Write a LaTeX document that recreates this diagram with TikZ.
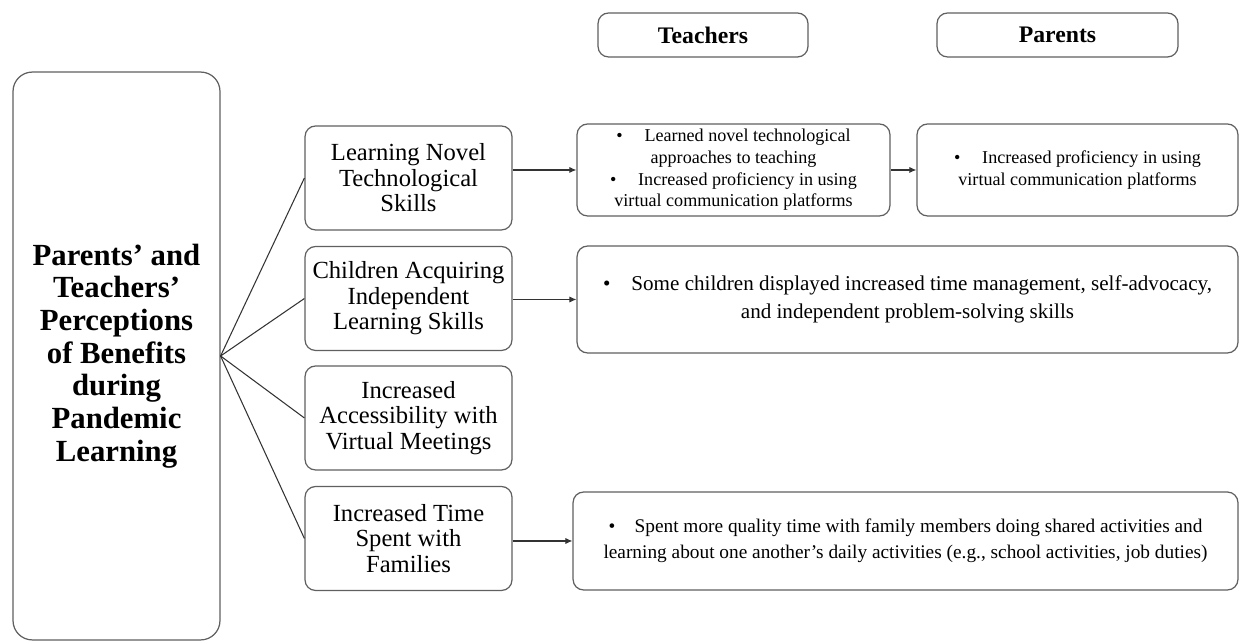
\documentclass[tikz,border=0pt]{standalone}
\usepackage{fontspec}
\setmainfont{Liberation Serif}
\usetikzlibrary{arrows.meta}

\begin{document}
\begin{tikzpicture}[x=0.02cm,y=-0.02cm,
		box/.style={draw=gray!75!black,line width=0.7pt,rounded corners=6pt,align=center,inner sep=1pt},
		catbox/.style={box,minimum width=4.14cm,minimum height=2.08cm,font=\fontsize{14}{14.5}\selectfont},
		headbox/.style={box,minimum height=0.88cm,font=\bfseries\fontsize{13.5}{15}\selectfont},
		link/.style={line width=0.6pt,draw=black!80},
		arr/.style={link,-{Latex[length=4pt,width=3.5pt]}}]
	\useasboundingbox (0,0) rectangle (1241,644);
	\node[box,rounded corners=11pt,minimum width=4.14cm,minimum height=11.36cm,font=\bfseries\fontsize{17.5}{18.6}\selectfont] (main) at (116.5,356) {Parents’ and\\Teachers’\\Perceptions\\of Benefits\\during\\Pandemic\\Learning};
	\node[headbox,minimum width=4.2cm] (teach) at (703,35) {Teachers};
	\node[headbox,minimum width=4.82cm] (par) at (1057.5,35) {Parents};
	\node[catbox] (cat1) at (408.5,178) {Learning Novel\\Technological\\Skills};
	\node[catbox] (cat2) at (408.5,298.5) {Children Acquiring\\Independent\\Learning Skills};
	\node[catbox] (cat3) at (408.5,418) {Increased\\Accessibility with\\Virtual Meetings};
	\node[catbox] (cat4) at (408.5,538.5) {Increased Time\\Spent with\\Families};
	\node[box,minimum width=6.26cm,minimum height=1.84cm,font=\fontsize{10.3}{12.3}\selectfont] (tech1) at (733.5,170) {\textbullet\hspace{1.2em}Learned novel technological\\approaches to teaching\\\textbullet\hspace{1.2em}Increased proficiency in using\\virtual communication platforms};
	\node[box,minimum width=6.42cm,minimum height=1.84cm,font=\fontsize{10.3}{12.3}\selectfont] (par1) at (1077.5,170) {\textbullet\hspace{1.2em}Increased proficiency in using\\virtual communication platforms};
	\node[box,minimum width=13.22cm,minimum height=2.14cm,font=\fontsize{12}{16}\selectfont] (both2) at (907.5,299.5) {\textbullet\hspace{1em}Some children displayed increased time management, self-advocacy,\\and independent problem-solving skills};
	\node[box,minimum width=13.3cm,minimum height=1.96cm,font=\fontsize{11}{14.5}\selectfont] (both4) at (905.5,541) {\textbullet\hspace{1em}Spent more quality time with family members doing shared activities and\\learning about one another’s daily activities (e.g., school activities, job duties)};
	\foreach \c in {cat1,cat2,cat3,cat4}
		\draw[link] (main.east) -- (\c.west);
	\draw[arr] (cat1.east |- tech1.west) -- (tech1.west);
	\draw[arr] (tech1) -- (par1);
	\draw[arr] (cat2.east |- both2.west) -- (both2.west);
	\draw[arr] (cat4.east |- both4.west) -- (both4.west);
\end{tikzpicture}
\end{document}
